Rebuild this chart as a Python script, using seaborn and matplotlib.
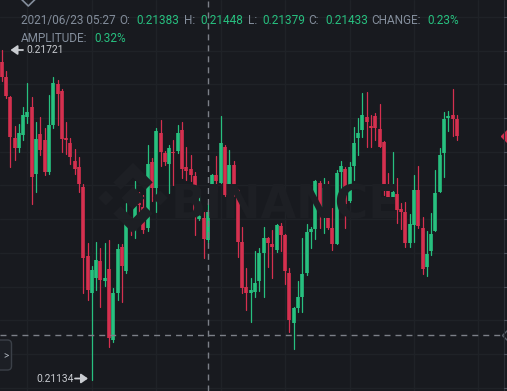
import numpy as np
import pandas as pd
import matplotlib
matplotlib.use("Agg")
import matplotlib.pyplot as plt
import seaborn as sns
from matplotlib.patches import FancyBboxPatch, Polygon
from matplotlib.transforms import IdentityTransform
from matplotlib.lines import Line2D

# ---------------- data (1-minute candles, price in USDT) ----------------
opens = [0.21700, 0.21673, 0.21638, 0.21564, 0.21547, 0.21570, 0.21601, 0.21620, 0.21500, 0.21571,
         0.21561, 0.21504, 0.21587, 0.21660, 0.21648, 0.21564, 0.21556, 0.21523, 0.21513, 0.21478,
         0.21354, 0.21288, 0.21316, 0.21346, 0.21310, 0.21331, 0.21205, 0.21288, 0.21371, 0.21328,
         0.21415, 0.21413, 0.21448, 0.21441, 0.21404, 0.21522, 0.21476, 0.21573, 0.21537, 0.21518,
         0.21540, 0.21541, 0.21579, 0.21513, 0.21510, 0.21497, 0.21420, 0.21422, 0.21383, 0.21436,
         0.21498, 0.21485, 0.21549, 0.21464, 0.21516, 0.21472, 0.21380, 0.21300, 0.21288, 0.21291,
         0.21309, 0.21359, 0.21386, 0.21375, 0.21365, 0.21408, 0.21392, 0.21324, 0.21235, 0.21262,
         0.21282, 0.21324, 0.21397, 0.21402, 0.21484, 0.21429, 0.21470, 0.21404, 0.21376, 0.21504,
         0.21509, 0.21452, 0.21515, 0.21565, 0.21579, 0.21602, 0.21586, 0.21604, 0.21580, 0.21558,
         0.21475, 0.21454, 0.21465, 0.21438, 0.21433, 0.21377, 0.21410, 0.21472, 0.21405, 0.21335,
         0.21363, 0.21399, 0.21469, 0.21537, 0.21600, 0.21605, 0.21598]
highs = [0.21721, 0.21684, 0.21639, 0.21586, 0.21589, 0.21620, 0.21662, 0.21638, 0.21593, 0.21601,
         0.21582, 0.21641, 0.21673, 0.21668, 0.21652, 0.21593, 0.21564, 0.21545, 0.21531, 0.21483,
         0.21378, 0.21337, 0.21379, 0.21368, 0.21377, 0.21383, 0.21297, 0.21376, 0.21376, 0.21448,
         0.21424, 0.21488, 0.21469, 0.21463, 0.21552, 0.21529, 0.21582, 0.21596, 0.21541, 0.21552,
         0.21561, 0.21587, 0.21593, 0.21548, 0.21534, 0.21504, 0.21474, 0.21433, 0.21448, 0.21501,
         0.21532, 0.21604, 0.21552, 0.21543, 0.21523, 0.21474, 0.21406, 0.21333, 0.21315, 0.21363,
         0.21368, 0.21406, 0.21389, 0.21401, 0.21411, 0.21413, 0.21394, 0.21333, 0.21264, 0.21310,
         0.21387, 0.21411, 0.21406, 0.21490, 0.21487, 0.21493, 0.21488, 0.21440, 0.21507, 0.21523,
         0.21513, 0.21522, 0.21584, 0.21600, 0.21644, 0.21647, 0.21605, 0.21609, 0.21624, 0.21559,
         0.21502, 0.21540, 0.21494, 0.21448, 0.21451, 0.21429, 0.21499, 0.21515, 0.21424, 0.21399,
         0.21430, 0.21507, 0.21546, 0.21611, 0.21612, 0.21652, 0.21605]
lows = [0.21665, 0.21635, 0.21513, 0.21525, 0.21539, 0.21561, 0.21591, 0.21447, 0.21469, 0.21534,
        0.21498, 0.21501, 0.21582, 0.21587, 0.21540, 0.21536, 0.21518, 0.21500, 0.21469, 0.21289,
        0.21276, 0.21134, 0.21294, 0.21264, 0.21301, 0.21193, 0.21201, 0.21276, 0.21273, 0.21324,
        0.21392, 0.21386, 0.21413, 0.21396, 0.21398, 0.21452, 0.21433, 0.21515, 0.21516, 0.21466,
        0.21481, 0.21537, 0.21494, 0.21490, 0.21487, 0.21392, 0.21418, 0.21351, 0.21379, 0.21426,
        0.21469, 0.21484, 0.21461, 0.21434, 0.21461, 0.21353, 0.21288, 0.21258, 0.21237, 0.21282,
        0.21292, 0.21282, 0.21335, 0.21315, 0.21362, 0.21363, 0.21305, 0.21219, 0.21189, 0.21255,
        0.21255, 0.21321, 0.21368, 0.21384, 0.21404, 0.21395, 0.21402, 0.21365, 0.21375, 0.21462,
        0.21405, 0.21450, 0.21490, 0.21534, 0.21567, 0.21549, 0.21549, 0.21561, 0.21548, 0.21463,
        0.21456, 0.21453, 0.21413, 0.21402, 0.21371, 0.21371, 0.21380, 0.21405, 0.21322, 0.21318,
        0.21356, 0.21398, 0.21468, 0.21495, 0.21577, 0.21568, 0.21561]
closes = [0.21673, 0.21639, 0.21567, 0.21546, 0.21573, 0.21605, 0.21611, 0.21495, 0.21563, 0.21543,
          0.21504, 0.21587, 0.21662, 0.21643, 0.21562, 0.21561, 0.21531, 0.21509, 0.21482, 0.21350,
          0.21294, 0.21329, 0.21347, 0.21312, 0.21316, 0.21208, 0.21288, 0.21366, 0.21336, 0.21415,
          0.21410, 0.21446, 0.21445, 0.21401, 0.21518, 0.21475, 0.21577, 0.21539, 0.21521, 0.21546,
          0.21538, 0.21573, 0.21510, 0.21506, 0.21498, 0.21424, 0.21425, 0.21384, 0.21433, 0.21498,
          0.21487, 0.21555, 0.21463, 0.21516, 0.21463, 0.21380, 0.21297, 0.21288, 0.21294, 0.21306,
          0.21359, 0.21387, 0.21377, 0.21371, 0.21410, 0.21392, 0.21328, 0.21240, 0.21262, 0.21282,
          0.21322, 0.21397, 0.21402, 0.21487, 0.21430, 0.21475, 0.21404, 0.21376, 0.21502, 0.21515,
          0.21446, 0.21512, 0.21556, 0.21574, 0.21605, 0.21592, 0.21583, 0.21582, 0.21549, 0.21475,
          0.21460, 0.21469, 0.21436, 0.21433, 0.21377, 0.21411, 0.21472, 0.21407, 0.21332, 0.21357,
          0.21393, 0.21466, 0.21534, 0.21599, 0.21603, 0.21598, 0.21568]

hover_index = 48                 # candle under the crosshair
hover_label = "2021/06/23 05:27"
crosshair_price = 0.21214
grid_prices = [0.2112, 0.2118, 0.2124, 0.2130, 0.2136, 0.2142, 0.2148, 0.2154, 0.2160, 0.2166, 0.2172, 0.2178]
grid_candles = [6, 21, 36, 51, 66, 81, 96, 111]

# ---------------- style ----------------
BG = "#181a1f"
GRID = "#1f2227"
UP = "#27c07f"
DOWN = "#d5304f"
LABEL = "#848e9c"
CROSS = "#7c8088"
WM = "#1d1f24"

W, H = 507, 391
sns.set_theme(style="dark", rc={"axes.facecolor": BG, "figure.facecolor": BG})
plt.rcParams["font.family"] = ["Roboto", "DejaVu Sans"]

fig = plt.figure(figsize=(W / 100, H / 100), dpi=100)
ax = fig.add_axes([0, 0, 1, 1])
ax.set_facecolor(BG)

X0, X1 = -0.389, 117.65
Y0, Y1 = 0.21114, 0.21810
ax.set_xlim(X0, X1)
ax.set_ylim(Y0, Y1)
px_price = (Y1 - Y0) / H

ax.set_xticks(grid_candles)
ax.set_yticks(grid_prices)
ax.grid(True, color=GRID, lw=1)
ax.tick_params(length=0, labelbottom=False, labelleft=False)
for s in ax.spines.values():
    s.set_visible(False)

def fx(x):
    return x / W

def fy(y):
    return 1 - y / H

# watermark
fig.text(fx(171), fy(218), "BINANCE", fontsize=33, fontweight="bold", color=WM,
         family="DejaVu Sans", va="baseline", ha="left", zorder=0)
cx, cy, sc = 133, 198, 34
logo = [
    [(0, 0.17), (0.17, 0), (0, -0.17), (-0.17, 0)],
    [(-0.40, 0.11), (-0.29, 0), (-0.40, -0.11), (-0.51, 0)],
    [(0.40, 0.11), (0.51, 0), (0.40, -0.11), (0.29, 0)],
    [(0, 0.52), (0.29, 0.23), (0.18, 0.12), (0, 0.30), (-0.18, 0.12), (-0.29, 0.23)],
    [(0, -0.52), (0.29, -0.23), (0.18, -0.12), (0, -0.30), (-0.18, -0.12), (-0.29, -0.23)],
]
for poly in logo:
    pts = [(fx(cx + sc * 2 * a), fy(cy - sc * 2 * b)) for a, b in poly]
    fig.patches.append(Polygon(pts, closed=True, transform=fig.transFigure,
                               facecolor=WM, edgecolor="none", zorder=0))

# ---------------- candles ----------------
o = np.array(opens)
h = np.array(highs)
l = np.array(lows)
c = np.array(closes)
n = len(o)
idx = np.arange(n)
direction = np.where(c >= o, "up", "down")
pal = {"up": UP, "down": DOWN}

wicks = pd.DataFrame({
    "x": np.repeat(idx, 2),
    "y": np.column_stack([l, h]).ravel(),
    "id": np.repeat(idx, 2),
    "dir": np.repeat(direction, 2),
})
sns.lineplot(data=wicks, x="x", y="y", units="id", estimator=None, hue="dir",
             palette=pal, linewidth=0.9, legend=False, sort=False, ax=ax, zorder=3)

bot = np.minimum(o, c)
top = np.maximum(o, c)
mid = (bot + top) / 2
half = np.maximum((top - bot) / 2, px_price * 0.6)
bodies = pd.DataFrame({
    "x": np.repeat(idx, 2),
    "y": np.column_stack([mid - half, mid + half]).ravel(),
    "id": np.repeat(idx, 2),
    "dir": np.repeat(direction, 2),
})
sns.lineplot(data=bodies, x="x", y="y", units="id", estimator=None, hue="dir",
             palette=pal, linewidth=2.6, legend=False, sort=False, ax=ax, zorder=4,
             solid_capstyle="butt")
ax.set_xlabel("")
ax.set_ylabel("")

# ---------------- crosshair ----------------
ax.axvline(hover_index, color=CROSS, lw=1.0, dashes=(4.3, 3.6), zorder=6)
ax.axhline(crosshair_price, xmin=0, xmax=500 / W, color=CROSS, lw=1.0, dashes=(4.3, 3.6), zorder=6)

# right price-axis edge
fig.add_artist(Line2D([fx(503.5), fx(503.5)], [0, 1], color="#2a2e35", lw=0.8, transform=fig.transFigure))
for gp in grid_prices:
    yy = (gp - Y0) / (Y1 - Y0)
    fig.add_artist(Line2D([fx(503.5), fx(508)], [yy, yy], color="#4a505a", lw=0.8, transform=fig.transFigure))
ax.plot([117.95], [closes[-1]], marker="D", ms=7, color=DOWN, clip_on=False, zorder=7)
ax.plot([118.1], [crosshair_price], marker="D", ms=7, mfc=BG, mec="#5a6069", mew=1, clip_on=False, zorder=7)

# ---------------- header ----------------
O, Hh, L, C = opens[hover_index], highs[hover_index], lows[hover_index], closes[hover_index]
change = (C - O) / O * 100
ampl = (Hh - L) / O * 100
FS = 8.5
line1 = [
    (20.7, hover_label, LABEL), (119.3, "O:", LABEL), (136.7, f"{O:.5f}", UP),
    (183.7, "H:", LABEL), (200.0, f"{Hh:.5f}", UP), (247.7, "L:", LABEL), (262.3, f"{L:.5f}", UP),
    (308.3, "C:", LABEL), (325.0, f"{C:.5f}", UP), (371.0, "CHANGE:", LABEL), (427.3, f"{change:.2f}%", UP),
]
for xp, s, col in line1:
    fig.text(fx(xp), fy(24.3), s, fontsize=FS, color=col, va="baseline", ha="left")
line2 = [(20.7, "AMPLITUDE:", LABEL), (94.3, f"{ampl:.2f}%", UP)]
for xp, s, col in line2:
    fig.text(fx(xp), fy(41.5), s, fontsize=FS, color=col, va="baseline", ha="left")

# top-left collapse chevron
fig.add_artist(Line2D([fx(21.7), fx(28.3), fx(35)], [fy(-0.5), fy(6), fy(-0.5)],
                      color=LABEL, lw=1.2, transform=fig.transFigure))

# high / low markers
hi_i = int(np.argmax(h))
lo_i = int(np.argmin(l))
MARK = "#c9ccd1"
fig.text(fx(26), fy(53.3), f"{h[hi_i]:.5f}", fontsize=7.4, color=MARK, va="baseline", ha="left")
ax.annotate("", xy=(10.5, H - 50), xytext=(23, H - 50), xycoords="figure pixels",
            textcoords="figure pixels",
            arrowprops=dict(arrowstyle="-|>,head_length=0.5,head_width=0.35", mutation_scale=8,
                            color=MARK, lw=1.3, shrinkA=0, shrinkB=0))
fig.text(fx(36.7), fy(382), f"{l[lo_i]:.5f}", fontsize=7.4, color=MARK, va="baseline", ha="left")
ax.annotate("", xy=(88, H - 378.5), xytext=(75, H - 378.5), xycoords="figure pixels",
            textcoords="figure pixels",
            arrowprops=dict(arrowstyle="-|>,head_length=0.5,head_width=0.35", mutation_scale=8,
                            color=MARK, lw=1.3, shrinkA=0, shrinkB=0))

# left side panel button
btn = FancyBboxPatch((-6, H - 370), 17.5, 30, boxstyle="round,pad=0,rounding_size=4",
                     transform=IdentityTransform(), facecolor="#1c1f25", edgecolor="#3b4048", lw=1)
fig.patches.append(btn)
fig.text(fx(5.5), fy(355), ">", fontsize=7, color="#aab0b8", va="center", ha="center")

fig.savefig("out.png", dpi=100, facecolor=BG)
